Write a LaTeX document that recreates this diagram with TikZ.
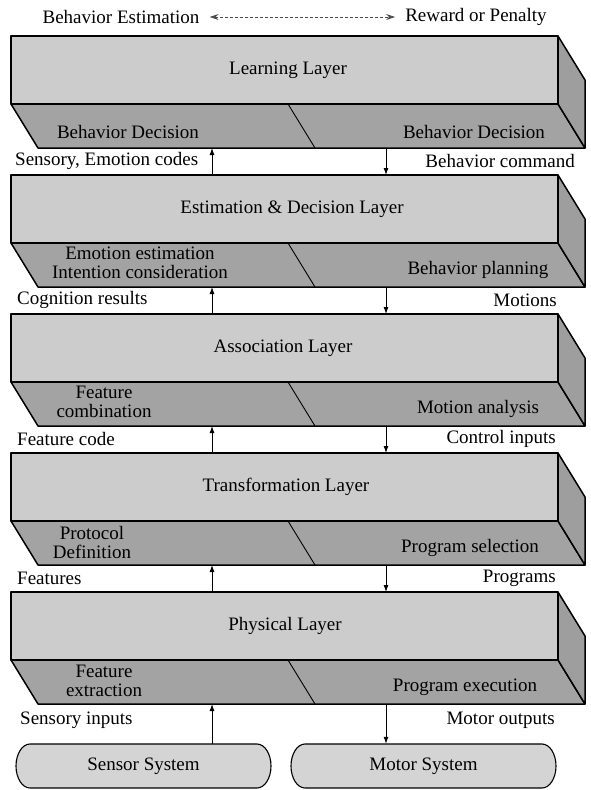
\documentclass[tikz,border=0pt]{standalone}
\usepackage{fontspec}
\setmainfont{Liberation Serif}
\usetikzlibrary{arrows.meta,calc}
\definecolor{topface}{gray}{0.80}
\definecolor{bandface}{gray}{0.64}
\definecolor{sideface}{gray}{0.62}
\definecolor{pillface}{gray}{0.83}
\begin{document}
\begin{tikzpicture}[x=1pt,y=-1pt,
  font=\fontsize{19}{19}\selectfont,
  face/.style={draw=black, line width=1.5pt, line join=round},
  divider/.style={draw=black, line width=0.9pt},
  arr/.style={-{Latex[length=7pt,width=5pt]}, line width=0.9pt},
  dblarr/.style={{Stealth[length=9pt,width=6pt]}-{Stealth[length=9pt,width=6pt]}, line width=0.9pt, densely dashed, draw=black!70},
  txt/.style={inner sep=0pt, align=center},
  pill/.style={draw=black, line width=1.1pt, fill=pillface}]
\useasboundingbox (0,0) rectangle (590,790);

% layers
\foreach \i in {0,...,4} {
  \pgfmathsetmacro{\T}{36+139*\i}
  \filldraw[face, fill=topface] (11,\T) rectangle (558,\T+68);
  \filldraw[face, fill=bandface] (11,\T+68) -- (558,\T+68) -- (585,\T+112) -- (38,\T+112) -- cycle;
  \filldraw[face, fill=sideface] (558,\T) -- (585,\T+44) -- (585,\T+112) -- (558,\T+68) -- cycle;
  \coordinate (dv\i a) at (288,\T+68);
  \coordinate (dv\i b) at (315,\T+112);
  \draw[divider] (dv\i a) -- (dv\i b);
  \coordinate (t\i u) at (212,\T);
  \coordinate (t\i d) at (386,\T);
  \coordinate (b\i u) at (212,\T+112);
  \coordinate (b\i d) at (386,\T+112);
}

% layer names
\node[txt] (L0) at (288,70)  {Learning Layer};
\node[txt] (L1) at (292,209) {Estimation \& Decision Layer};
\node[txt] (L2) at (283,348) {Association Layer};
\node[txt] (L3) at (286,487) {Transformation Layer};
\node[txt] (L4) at (285,626) {Physical Layer};

% band texts
\node[txt] (B0l) at (128,132) {Behavior Decision};
\node[txt] (B0r) at (474,132) {Behavior Decision};
\node[txt] (B1l) at (140,263) {Emotion estimation\\Intention consideration};
\node[txt] (B1r) at (478,270) {Behavior planning};
\node[txt] (B2l) at (104,402) {Feature\\combination};
\node[txt] (B2r) at (478,409) {Motion analysis};
\node[txt] (B3l) at (92,542) {Protocol\\Definition};
\node[txt] (B3r) at (470,548) {Program selection};
\node[txt] (B4l) at (104,681) {Feature\\extraction};
\node[txt] (B4r) at (465,687) {Program execution};

% top row
\node[txt] (be) at (121,17) {Behavior Estimation};
\node[txt] (rp) at (476,17) {Reward or Penalty};
\draw[dblarr, shorten <=10pt, shorten >=10pt] (be.east) -- (rp.west);

% label rows
\node[txt, anchor=west] (l0) at (15,161) {Sensory, Emotion codes};
\node[txt, anchor=east] (r0) at (575,161) {Behavior command};
\node[txt, anchor=west] (l1) at (17,300) {Cognition results};
\node[txt, anchor=east] (r1) at (557,300) {Motions};
\node[txt, anchor=west] (l2) at (17,439) {Feature code};
\node[txt, anchor=east] (r2) at (556,439) {Control inputs};
\node[txt, anchor=west] (l3) at (17,578) {Features};
\node[txt, anchor=east] (r3) at (556,578) {Programs};
\node[txt, anchor=west] (l4) at (20,720) {Sensory inputs};
\node[txt, anchor=east] (r4) at (555,720) {Motor outputs};

% sensor / motor pills
\draw[pill] (30,744) -- (257,744) arc[start angle=90, end angle=-90, x radius=14pt, y radius=22pt]
  -- (30,788) arc[start angle=-90, end angle=-270, x radius=14pt, y radius=22pt] -- cycle;
\draw[pill] (305,744) -- (542,744) arc[start angle=90, end angle=-90, x radius=14pt, y radius=22pt]
  -- (305,788) arc[start angle=-90, end angle=-270, x radius=14pt, y radius=22pt] -- cycle;
\node[minimum width=255pt, minimum height=44pt, inner sep=0pt] (sensor) at (143.5,766) {Sensor System};
\node[minimum width=265pt, minimum height=44pt, inner sep=0pt] (motor) at (423.5,766) {Motor System};

% connectors between layers
\foreach \i [evaluate=\i as \j using int(\i+1)] in {0,...,3} {
  \draw[arr] (t\j u) -- (b\i u);
  \draw[arr] (b\i d) -- (t\j d);
}
\draw[arr] (b4u |- sensor.north) -- (b4u);
\draw[arr] (b4d) -- (b4d |- motor.north);
\end{tikzpicture}
\end{document}
